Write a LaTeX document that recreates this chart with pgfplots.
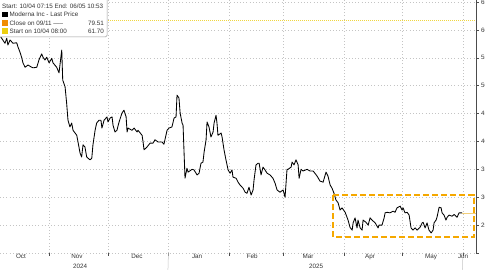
\documentclass[border=0pt]{standalone}
\usepackage{pgfplots}
\pgfplotsset{compat=1.18}
\usepackage{fontspec}
\setmainfont{Liberation Sans}
\definecolor{boxorange}{HTML}{F5A800}
\definecolor{startyellow}{HTML}{EDCF10}
\definecolor{startline}{HTML}{F0D640}
\definecolor{closeorange}{HTML}{F08C00}
\definecolor{lastline}{HTML}{F2CF7A}
\definecolor{gridgray}{HTML}{C4C4C4}
\definecolor{txtgray}{HTML}{333333}
\begin{document}
\begin{tikzpicture}[x=1pt,y=1pt]
\useasboundingbox (0,-17) rectangle (485,253);
\clip (0,-17) rectangle (485,253);
\begin{axis}[
  at={(0,0)}, anchor=south west,
  scale only axis, width=476pt, height=253pt,
  xmin=5.64, xmax=249.7, ymin=20, ymax=65.36,
  axis y line*=right, axis x line*=bottom,
  y axis line style={draw=black!70, line width=0.6pt},
  x axis line style={draw=none},
  clip mode=individual,
  xtick={31,61,92,123,151,182,212,243},
  xticklabels={{},{},{},{},{},{},{},{}},
  extra x ticks={16.4,45.1,75.9,106.7,134.9,163.6,195.4,226.7,243.1},
  extra x tick labels={Oct,Nov,Dec,Jan,Feb,Mar,Apr,May,Jun},
  extra x tick style={grid=none, major tick length=0pt},
  ytick={20,25,30,35,40,45,50,55,60,65},
  yticklabels={,25,30,35,40,45,50,55,60,65},
  xmajorgrids=true, ymajorgrids=true,
  grid style={gridgray, line width=0.5pt, dash pattern=on 0.8pt off 2.4pt},
  tick align=outside, major tick length=2.5pt,
  tick style={black!70, line width=0.5pt},
  ticklabel style={font=\fontsize{6.3}{7}\selectfont, text=txtgray},
  xticklabel style={yshift=2.5pt},
  yticklabel style={xshift=-1pt},
]
% start level line 61.70
\addplot[draw=startline, line width=0.8pt, dash pattern=on 1pt off 1pt, mark=none] coordinates {(5.64,61.7) (249.7,61.7)};
% price series
\addplot[black, line width=0.85pt, line join=round] coordinates {
(3,61.7) (4.5,59.5) (6.5,58.5) (8.2,57.6) (9.1,58.5) (9.7,57.3) (10.8,58.2) (12.3,57.6) (14.2,57.7) (14.9,56.9)
(15.9,56.0) (16.8,55.0) (17.4,54.1) (18.5,53.3) (20.0,53.7) (21.9,53.3) (22.6,53.2) (24.5,53.3) (25.6,54.6) (27.0,55.7)
(27.7,55.1) (28.7,54.6) (29.6,55.1) (30.8,54.1) (32.2,54.9) (32.8,54.1) (34.7,53.3) (35.9,52.3) (37.3,56.4) (37.8,51.0)
(39.0,49.8) (39.8,46.9) (40.5,43.8) (41.5,42.6) (42.4,43.3) (43.1,42.0) (45.0,41.1) (46.7,37.9) (47.5,37.2) (48.2,39.4)
(49.2,39.0) (50.1,37.2) (51.8,36.7) (52.7,37.0) (53.3,39.4) (54.4,42.0) (55.2,43.3) (56.4,43.8)
(57.4,43.8) (57.9,42.4) (59.0,43.8) (60.5,44.4) (61.0,43.5) (62.1,44.2) (63.1,44.4) (63.6,42.9) (64.6,41.7) (65.6,42.0)
(66.7,43.5) (68.2,45.1) (69.2,45.6) (70.3,44.4) (70.8,41.7) (71.3,42.4) (73.3,42.0) (74.4,42.4) (75.9,41.7) (76.4,42.0)
(78.5,41.1) (79.0,39.9) (79.5,38.5) (81.0,39.0) (82.6,39.7) (84.1,39.7) (85.1,40.3) (86.7,39.9) (88.7,39.9) (89.7,39.5)
(91.3,42.0) (92.3,42.4) (93.8,42.6) (94.9,44.2) (95.9,44.4) (96.4,48.3) (97.4,47.8) (98.0,45.1) (99.0,43.3) (99.5,42.9)
(100.5,33.4) (101.5,35.2) (102.1,34.5) (104.1,35.0) (105.1,34.9)
(106.7,34.0) (107.7,34.3) (108.7,36.1) (109.7,36.3) (110.3,38.1) (111.3,40.3) (111.8,43.5) (112.8,42.6) (113.8,40.8) (114.9,41.7)
(115.4,43.3) (116.4,44.7) (116.9,43.3) (117.4,41.1) (119.0,41.5) (119.5,40.8) (120.5,38.5) (121.5,36.7) (122.6,34.9) (123.6,34.3)
(124.6,34.9) (125.1,33.6) (126.7,33.4) (127.7,32.7) (128.7,32.2) (130.3,31.6) (131.3,30.9) (132.3,30.7) (133.3,31.8) (134.4,30.4)
(135.4,31.3) (135.9,33.1) (136.9,35.8) (138.0,36.1) (138.5,36.1) (139.5,34.0) (140.5,35.4) (141.5,34.9) (142.6,34.3) (144.1,34.0)
(145.6,33.4) (146.7,32.5) (147.7,31.3) (149.2,30.9) (150.8,31.3) (151.8,30.0) (152.8,35.0)
(153.3,35.0) (154.9,35.4) (155.4,36.3) (156.4,35.8) (157.4,36.7) (158.5,35.8) (159.0,33.4) (160.0,35.0) (161.0,34.7) (163.1,35.0)
(164.6,34.7) (166.2,34.7) (168.2,33.8) (169.7,32.9) (171.3,32.7) (172.8,34.5) (173.8,33.8) (174.9,32.2) (175.9,31.6) (176.9,30.7)
(177.9,29.5) (179.0,29.0) (180.0,27.7) (181.0,28.1) (182.6,27.3) (184.1,25.9) (185.1,24.6) (186.2,24.1) (186.7,25.4) (187.7,26.3)
(188.7,24.5) (189.2,25.9) (190.3,24.5) (191.3,24.1) (191.8,25.9) (193.3,25.5) (194.4,25.0) (195.4,26.3) (196.4,25.9) (198.0,25.4)
(199.5,24.5) (200.0,25.0) (201.5,25.0) (202.6,26.3)
(203.1,27.2) (204.1,27.3) (205.6,27.2) (207.2,27.5) (208.2,27.3) (209.2,28.1) (210.8,28.4) (211.8,27.7) (212.3,28.1) (213.3,27.2)
(214.4,27.3) (215.4,26.8) (216.4,24.5) (217.4,24.1) (218.5,24.5) (219.5,24.1) (221.0,24.6) (222.1,25.4) (222.6,25.5) (223.6,24.5)
(224.6,25.4) (225.6,24.1) (226.7,23.6) (227.7,24.1) (228.2,25.4) (229.2,25.9) (229.7,26.4) (230.8,28.2) (231.8,28.1) (232.3,27.2)
(233.3,26.8) (234.3,25.9) (234.9,26.4) (235.9,26.8) (237.4,26.6) (238.5,26.9) (240.0,26.4) (241.0,27.2) (242.6,27.2)
};
% last price marker line
\addplot[lastline, line width=0.7pt] coordinates {(242.6,27.15) (249.7,27.15)};
% highlight box
\addplot[boxorange, line width=1.6pt, dash pattern=on 6pt off 3pt] coordinates {
(176.4,30.4) (248.6,30.4) (248.6,22.85) (176.4,22.85) (176.4,30.4)};
% year labels and separators
\draw[gridgray, line width=0.5pt] (axis cs:92,20) -- ++(0,-17);
\draw[gridgray, line width=0.5pt] (axis cs:243,20) -- ++(0,-17);
\node[font=\fontsize{6.3}{7}\selectfont, text=txtgray] at ([yshift=-13pt]axis cs:46.7,20) {2024};
\node[font=\fontsize{6.3}{7}\selectfont, text=txtgray] at ([yshift=-13pt]axis cs:167.7,20) {2025};
\end{axis}
% legend box
\draw[black!40, fill=white, rounded corners=1.5pt, line width=0.5pt] (-4,216) rectangle (107,256);
\begin{scope}[every node/.style={font=\fontsize{6.3}{7}\selectfont, text=txtgray, inner sep=0pt}]
\node[anchor=west] at (2,246.5) {Start: 10/04 07:15 End: 06/05 10:53};
\fill[black] (2,235.5) rectangle (7.5,241);
\node[anchor=west] at (9.5,238.3) {Moderna Inc - Last Price};
\fill[closeorange] (2,227.3) rectangle (7.5,232.8);
\node[anchor=west] at (9.5,230.1) {Close on 09/11 -----};
\node[anchor=east] at (104,230.1) {79.51};
\fill[startyellow] (2,219.1) rectangle (7.5,224.6);
\node[anchor=west] at (9.5,221.9) {Start on 10/04 08:00};
\node[anchor=east] at (104,221.9) {61.70};
\end{scope}
\end{tikzpicture}
\end{document}
